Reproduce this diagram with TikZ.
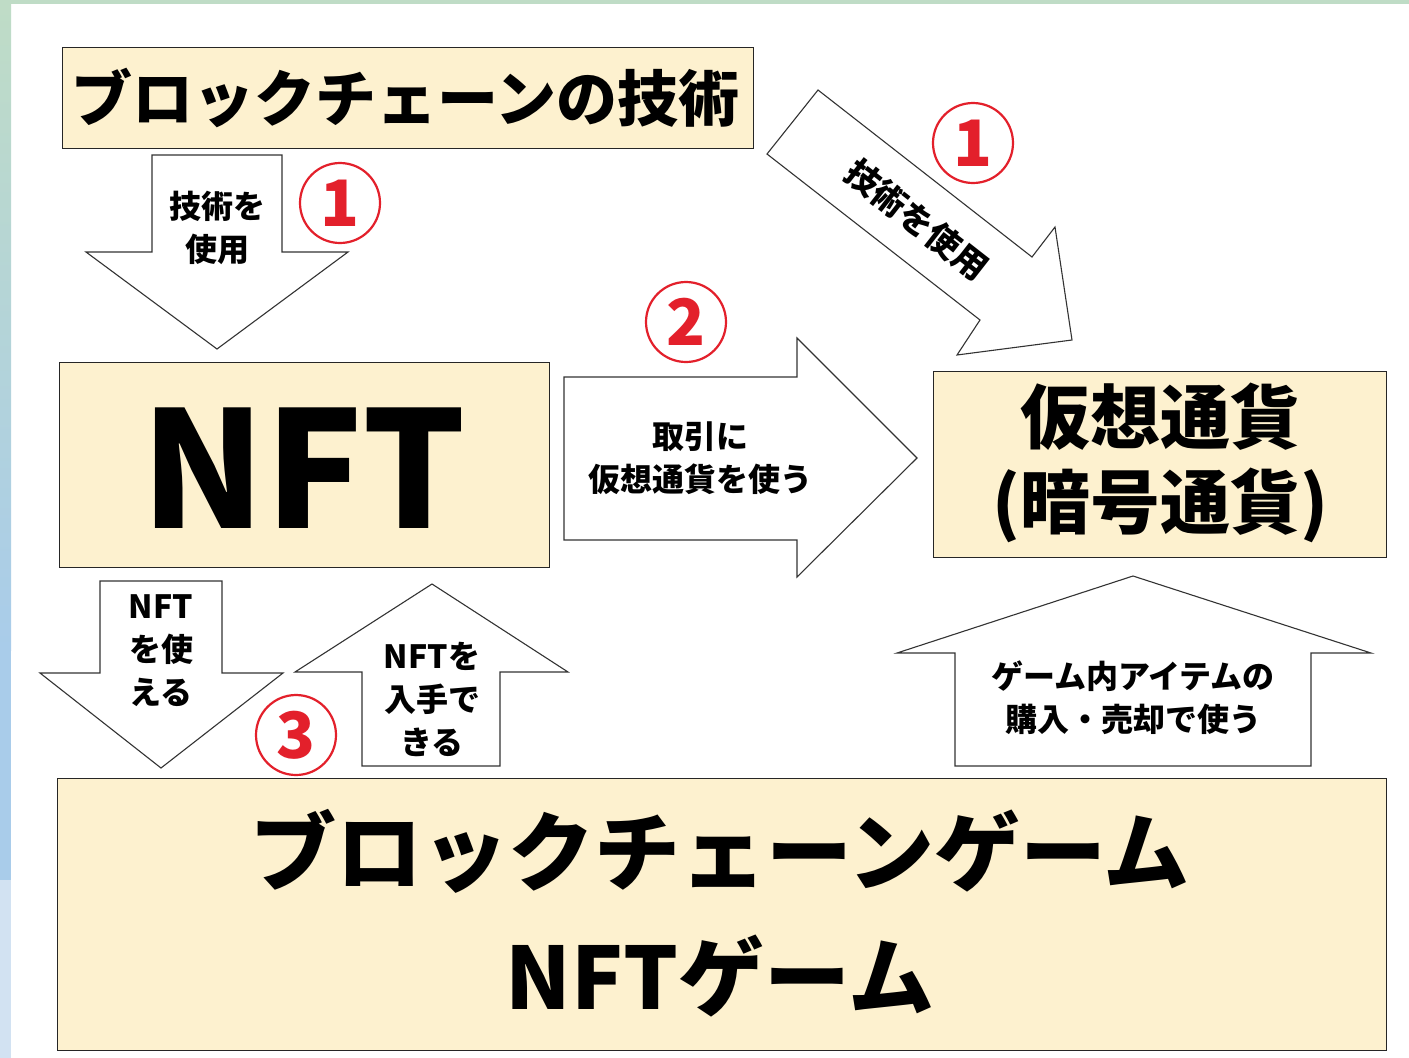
\documentclass[tikz,border=0pt]{standalone}
\usepackage{fontspec}
\setmainfont{Noto Sans CJK JP}
\definecolor{boxfill}{HTML}{FDF1CF}
\definecolor{circred}{HTML}{E3202B}
\definecolor{stripgreen}{HTML}{BFDCC6}
\definecolor{stripblue}{HTML}{A9CCEA}
\definecolor{stripblueb}{HTML}{D2E2F2}
\begin{document}
\begin{tikzpicture}[x=1pt,y=-1pt,
  box/.style={draw=black!85, line width=1.4pt, fill=boxfill, inner sep=0pt},
  blockarrow/.style={draw=black!80, line width=1.1pt, fill=white, line join=miter},
  lbl/.style={font=\bfseries\fontsize{32}{43}\selectfont, align=center, inner sep=0pt},
  num/.style={circle, draw=circred, line width=2.2pt, minimum size=80pt, inner sep=0pt, text=circred, font=\bfseries\fontsize{64}{64}\selectfont}]
\useasboundingbox (0,0) rectangle (1409,1058);
\fill[white] (0,0) rectangle (1409,1058);
\fill[stripgreen] (0,0) rectangle (1409,4);
\shade[top color=stripgreen, bottom color=stripblue] (0,0) rectangle (11,650);
\fill[stripblue] (0,650) rectangle (11,880);
\fill[stripblueb] (0,880) rectangle (11,1058);

% boxes
\node[box, anchor=north west, minimum width=691pt, minimum height=101pt] (tech) at (62,47) {};
\node[font=\bfseries\fontsize{61}{61}\selectfont, inner sep=0pt] (techtxt) at (405,98) {ブロックチェーンの技術};

\node[box, anchor=north west, minimum width=490pt, minimum height=205pt] (nft) at (59,362) {};
\node[font=\bfseries\fontsize{162}{162}\selectfont, inner sep=0pt] (nfttxt) at (304,468) {NFT};

\node[box, anchor=north west, minimum width=453pt, minimum height=186pt] (crypto) at (933,371) {};
\node[font=\bfseries\fontsize{70}{85}\selectfont, align=center, inner sep=0pt] (cryptotxt) at (1160,463) {仮想通貨\\(暗号通貨)};

\node[box, anchor=north west, minimum width=1329pt, minimum height=272pt] (game) at (57,778) {};
\node[font=\bfseries\fontsize{86}{125}\selectfont, align=center, inner sep=0pt] (gametxt) at (720,913) {ブロックチェーンゲーム\\NFTゲーム};

% arrow 1: tech -> NFT
\draw[blockarrow] (152,155) -- (282,155) -- (282,252) -- (348,252) -- (217,349) -- (86,252) -- (152,252) -- cycle;
\node[lbl] (a1) at (217,228) {技術を\\使用};
\node[num] (n1a) at (340,203) {1};

% arrow 1 diagonal: tech -> crypto
\draw[blockarrow] (767,154) -- (818,90) -- (1032,257) -- (1055,227) -- (1072,340) -- (957,355) -- (980,320) -- cycle;
\node[lbl, font=\bfseries\fontsize{34}{34}\selectfont, rotate=-38] (a1b) at (917,220) {技術を使用};
\node[num] (n1b) at (973,143) {1};

% arrow 2: NFT -> crypto
\draw[blockarrow] (564,377) -- (797,377) -- (797,338) -- (917,458) -- (797,577) -- (797,540) -- (564,540) -- cycle;
\node[lbl] (a2) at (700,458) {取引に\\仮想通貨を使う};
\node[num] (n2) at (686,322) {2};

% arrow 3 down: NFT -> game
\draw[blockarrow] (100,581) -- (222,581) -- (222,673) -- (283,673) -- (161,768) -- (40,673) -- (100,673) -- cycle;
\node[lbl] (a3a) at (161,651) {NFT\\を使\\える};

% arrow 3 up: game -> NFT
\draw[blockarrow] (362,766) -- (500,766) -- (500,672) -- (568,672) -- (432,584) -- (295,672) -- (362,672) -- cycle;
\node[lbl] (a3b) at (432,699) {NFTを\\入手で\\きる};
\node[num] (n3) at (296,735) {3};

% arrow game -> crypto
\draw[blockarrow] (955,766) -- (1311,766) -- (1311,653) -- (1371,653) -- (1133,576) -- (897,653) -- (955,653) -- cycle;
\node[lbl] (a4) at (1133,698) {ゲーム内アイテムの\\購入・売却で使う};
\end{tikzpicture}
\end{document}
